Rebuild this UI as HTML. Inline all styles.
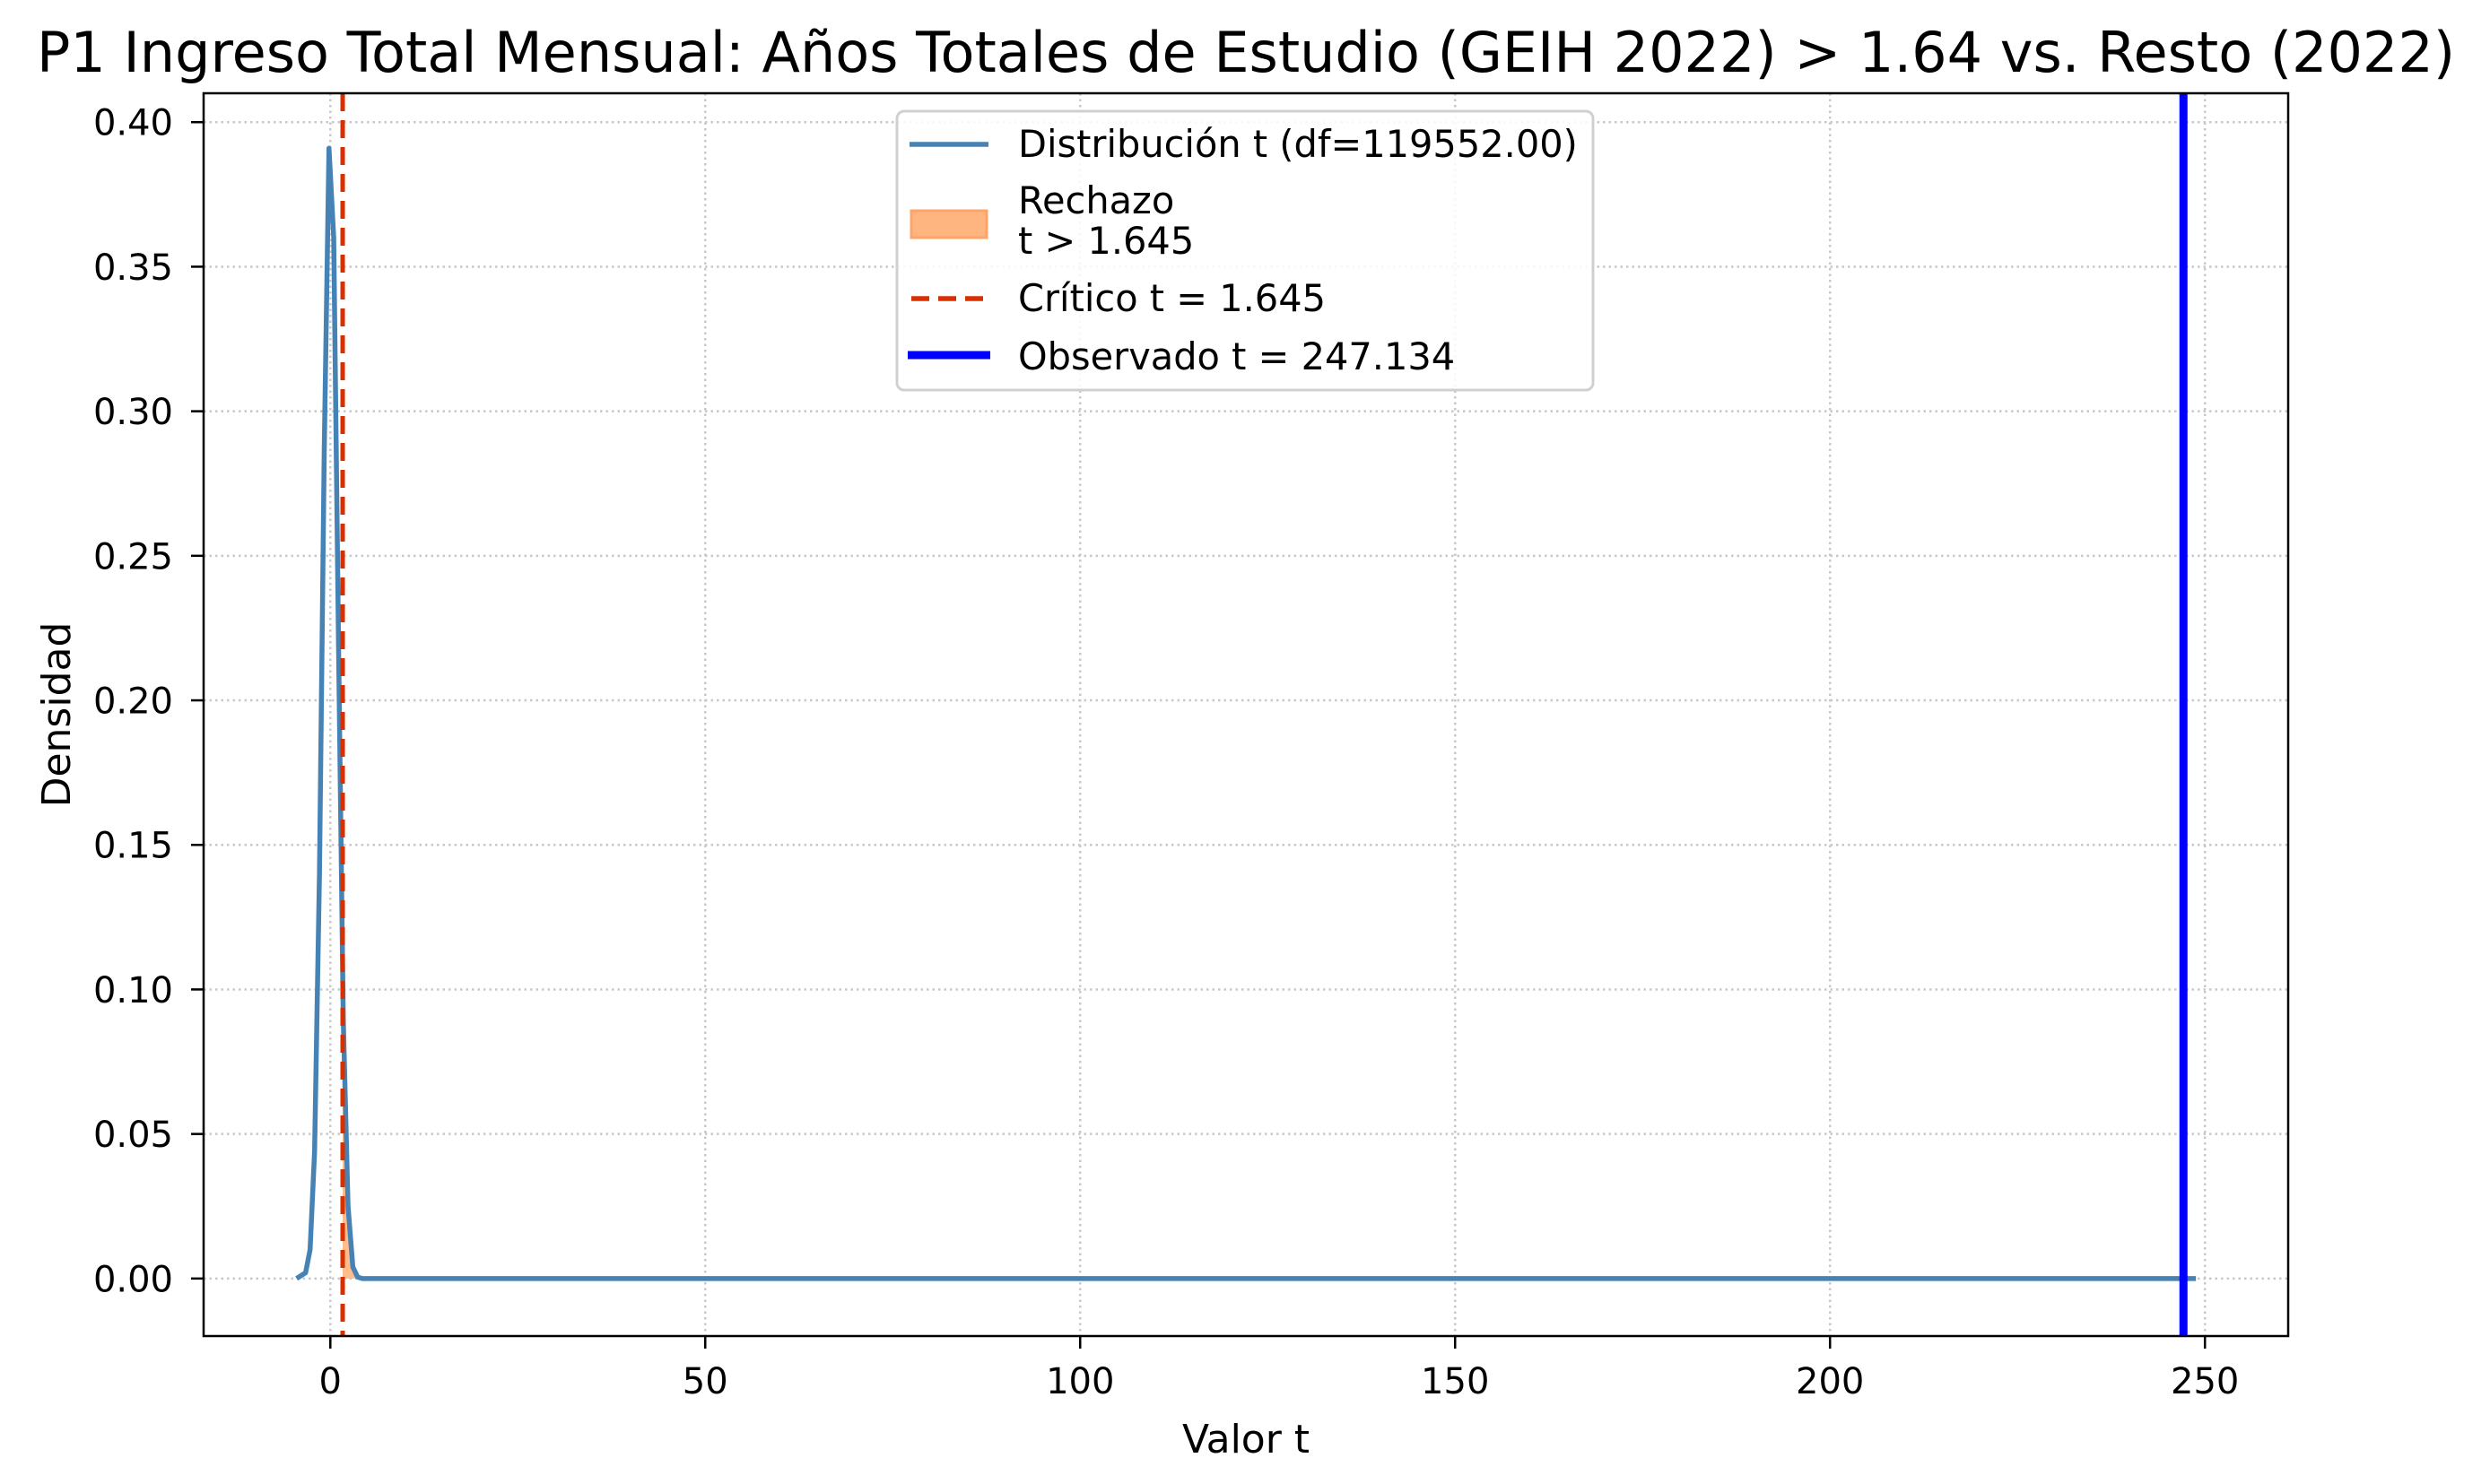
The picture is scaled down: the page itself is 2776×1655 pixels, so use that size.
<!DOCTYPE html>
<html><head><meta charset="utf-8">
<style>
html,body{margin:0;padding:0;background:#fff;}
svg{display:block;font-family:"DejaVu Sans","Liberation Sans",sans-serif;}
</style></head>
<body>
<svg id="chart" width="2776" height="1655" viewBox="0 0 2776 1655" xmlns="http://www.w3.org/2000/svg">
<rect width="2776" height="1655" fill="#fff"/>
<text x="1389" y="80" font-size="62" text-anchor="middle" fill="#000">P1 Ingreso Total Mensual: Años Totales de Estudio (GEIH 2022) &gt; 1.64 vs. Resto (2022)</text>
<g id="grid"></g>
<g id="fill"></g>
<g id="series"></g>
<rect x="227" y="104" width="2324" height="1386" fill="none" stroke="#000" stroke-width="2.5"/>
<g id="xticks"></g>
<g id="yticks"></g>
<text x="1389" y="1620" font-size="44" text-anchor="middle">Valor t</text>
<text transform="translate(78,797) rotate(-90)" font-size="44" text-anchor="middle">Densidad</text>
<g>
<rect x="1000" y="124" width="776" height="311" rx="8" fill="#fff" fill-opacity="0.85" stroke="#d0d0d0" stroke-width="3"/>
<line x1="1014" y1="161" x2="1102" y2="161" stroke="#4682b4" stroke-width="5.5"/>
<text x="1135" y="175" font-size="41.5">Distribución t (df=119552.00)</text>
<rect x="1016" y="235" width="84" height="30" fill="#ffb580" stroke="#ffa468" stroke-width="3"/>
<text x="1135" y="238" font-size="41.5">Rechazo</text>
<text x="1135" y="283" font-size="41.5">t &gt; 1.645</text>
<line x1="1016" y1="333" x2="1102" y2="333" stroke="#d62f00" stroke-width="5.5" stroke-dasharray="20,10"/>
<text x="1135" y="347" font-size="41.5">Crítico t = 1.645</text>
<line x1="1012" y1="396" x2="1104" y2="396" stroke="#0000ff" stroke-width="9"/>
<text x="1135" y="412" font-size="41.5">Observado t = 247.134</text>
</g>
</svg>
<script>
const xTicks = [0, 50, 100, 150, 200, 250];
const yTicks = [0.00, 0.05, 0.10, 0.15, 0.20, 0.25, 0.30, 0.35, 0.40];
const curveX = [-4.5, -3.9, -3.3, -2.7, -2.1, -1.45, -0.82, -0.18, 0.45, 1.09, 1.73, 2.36, 3.0, 3.64, 4.27, 5.0, 248.8];
const curveY = [0.000, 0.001, 0.002, 0.010, 0.044, 0.140, 0.285, 0.391, 0.360, 0.220, 0.089, 0.025, 0.004, 0.0005, 0.0000, 0.0000, 0.0000];
const criticalT = 1.645;
const observedT = 247.134;

const X0=227, X1=2551, Y0=1490, Y1=104;
const xMin=-16.9, xMax=261.1, yMin=-0.0199, yMax=0.41;
const sx = v => X0 + (v - xMin) / (xMax - xMin) * (X1 - X0);
const sy = v => Y0 - (v - yMin) / (yMax - yMin) * (Y0 - Y1);
const NS='http://www.w3.org/2000/svg';
function mk(tag, attrs, parent){const e=document.createElementNS(NS,tag);for(const k in attrs)e.setAttribute(k,attrs[k]);parent.appendChild(e);return e;}
const grid=document.getElementById('grid'), xt=document.getElementById('xticks'), yt=document.getElementById('yticks');
xTicks.forEach(v=>{
  const x=sx(v);
  const g=mk('line',{x1:x,y1:Y1,x2:x,y2:Y0,stroke:'#c8c8c8','stroke-width':2.5,'stroke-dasharray':'2.5,4'},grid);
  
  
  const t=mk('line',{x1:x,y1:Y0,x2:x,y2:Y0+14,stroke:'#000','stroke-width':2.5},xt);
  
  
  const l=mk('text',{x:x,y:1554,'font-size':40,'text-anchor':'middle'},xt);
  l.textContent=String(v);
  
  
});
yTicks.forEach(v=>{
  const y=sy(v);
  const g=mk('line',{x1:X0,y1:y,x2:X1,y2:y,stroke:'#c8c8c8','stroke-width':2.5,'stroke-dasharray':'2.5,4'},grid);
  
  
  const t=mk('line',{x1:X0-14,y1:y,x2:X0,y2:y,stroke:'#000','stroke-width':2.5},yt);
  
  
  const l=mk('text',{x:193,y:y+14.5,'font-size':40,'text-anchor':'end'},yt);
  l.textContent=v.toFixed(2);
  
  
});
const fillG=document.getElementById('fill');
function interp(x){for(let i=0;i<curveX.length-1;i++){if(x>=curveX[i]&&x<=curveX[i+1]){const f=(x-curveX[i])/(curveX[i+1]-curveX[i]);return curveY[i]+f*(curveY[i+1]-curveY[i]);}}return 0;}
let fp=[[sx(criticalT),sy(0)],[sx(criticalT),sy(interp(criticalT))]];
curveX.forEach((x,i)=>{if(x>criticalT)fp.push([sx(x),sy(curveY[i])]);});
fp.push([sx(curveX[curveX.length-1]),sy(0)]);
const fill=mk('polygon',{points:fp.map(p=>p.join(',')).join(' '),fill:'#ffb580','fill-opacity':0.9},fillG);


const sg=document.getElementById('series');
const curve=mk('polyline',{points:curveX.map((x,i)=>sx(x)+','+sy(curveY[i])).join(' '),fill:'none',stroke:'#4682b4','stroke-width':5.5,'stroke-linejoin':'round'},sg);


const crit=mk('line',{x1:sx(criticalT),y1:Y1,x2:sx(criticalT),y2:Y0,stroke:'#d62f00','stroke-width':5,'stroke-dasharray':'20,10'},sg);


const obs=mk('line',{x1:sx(observedT),y1:Y1,x2:sx(observedT),y2:Y0,stroke:'#0000ff','stroke-width':9},sg);


</script>
</body></html>
